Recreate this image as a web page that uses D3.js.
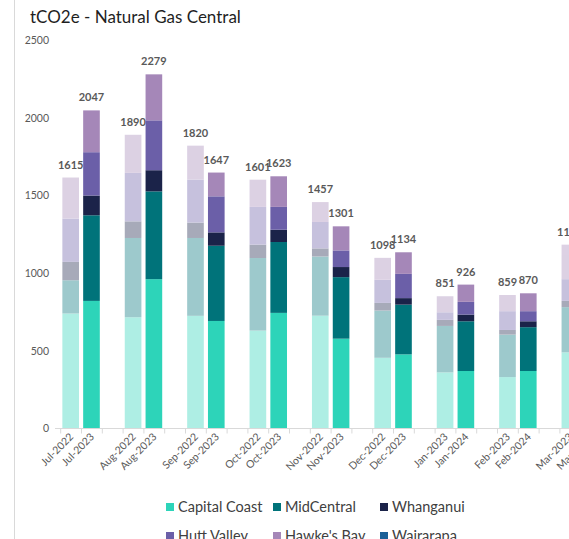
<!DOCTYPE html>
<html>
<head>
<meta charset="utf-8">
<script src="https://cdn.jsdelivr.net/npm/d3@7"></script>
<style>
  body { margin: 0; background: #fff; }
  svg { display: block; font-family: Lato, "Open Sans", sans-serif; }
</style>
</head>
<body>
<div id="chart"></div>
<script>
// months, prior year bar then current year bar
const priorMonths = ["Jul-2022", "Aug-2022", "Sep-2022", "Oct-2022", "Nov-2022", "Dec-2022", "Jan-2023", "Feb-2023", "Mar-2023"];
const currentMonths = ["Jul-2023", "Aug-2023", "Sep-2023", "Oct-2023", "Nov-2023", "Dec-2023", "Jan-2024", "Feb-2024", "Mar-2024"];

const regions = ["Capital Coast", "MidCentral", "Whanganui", "Hutt Valley", "Hawke's Bay", "Wairarapa"];
const regionColors = ["#2dd4b9", "#00737a", "#1b2349", "#6b5fa8", "#a587b8", "#1a5f96"];

// tCO2e, prior year
const priorCapitalCoast = [740, 716, 725, 630, 726, 455, 361, 331, 490];
const priorMidCentral   = [214, 510, 501, 467, 381, 304, 299, 273, 291];
const priorWhanganui    = [118, 107, 99, 86, 52, 49, 39, 30, 40];
const priorHuttValley   = [279, 312, 277, 243, 170, 149, 49, 121, 140];
const priorHawkesBay    = [264, 245, 218, 175, 128, 141, 103, 104, 222];
const priorWairarapa    = [0, 0, 0, 0, 0, 0, 0, 0, 0];

// tCO2e, current year
const currentCapitalCoast = [821, 961, 692, 744, 578, 477, 370, 370, null];
const currentMidCentral   = [551, 565, 484, 456, 396, 320, 320, 282, null];
const currentWhanganui    = [127, 136, 86, 79, 65, 42, 43, 38, null];
const currentHuttValley   = [279, 321, 232, 147, 107, 156, 82, 65, null];
const currentHawkesBay    = [269, 296, 153, 197, 155, 139, 111, 115, null];
const currentWairarapa    = [0, 0, 0, 0, 0, 0, 0, 0, null];

const yTicks = [0, 500, 1000, 1500, 2000, 2500];

const prior = [priorCapitalCoast, priorMidCentral, priorWhanganui, priorHuttValley, priorHawkesBay, priorWairarapa];
const current = [currentCapitalCoast, currentMidCentral, currentWhanganui, currentHuttValley, currentHawkesBay, currentWairarapa];

// build rows: prior, current, spacer
const rows = [];
priorMonths.forEach((m, i) => {
  rows.push({ key: "p" + i, label: m, faded: true, vals: prior.map(s => s[i]) });
  rows.push({ key: "c" + i, label: currentMonths[i], faded: false, vals: current.map(s => s[i]) });
  rows.push({ key: "g" + i, label: "", faded: false, vals: regions.map(() => null) });
});

const width = 569, height = 539;
const svg = d3.select("#chart").append("svg")
  .attr("width", width)
  .attr("height", height);

svg.append("rect").attr("width", width).attr("height", height).attr("fill", "#fff");

// chart area border
svg.append("line")
  .attr("x1", 14.5).attr("x2", 14.5)
  .attr("y1", 0).attr("y2", height)
  .attr("stroke", "#d9d9d9");

svg.append("text")
  .attr("x", 30).attr("y", 23)
  .attr("font-size", 17)
  .attr("fill", "#1f1f1f")
  .text("tCO2e - Natural Gas Central");

const step = 20.8;
const x = d3.scaleBand()
  .domain(rows.map(r => r.key))
  .range([60.7, 60.7 + step * rows.length])
  .padding(0);

const y = d3.scaleLinear().domain([0, 2500]).range([428.5, 40]);

// y axis labels only
const yAxis = d3.axisLeft(y).tickValues(yTicks).tickFormat(d3.format("d")).tickSize(0).tickPadding(0);
svg.append("g")
  .attr("transform", "translate(49,0)")
  .call(yAxis)
  .call(g => g.select(".domain").remove())
  .call(g => g.selectAll("text")
    .attr("font-family", "Lato, 'Open Sans', sans-serif")
    .attr("font-size", 10.5)
    .attr("fill", "#595959"));

// bars
rows.forEach(r => {
  if (r.vals[0] == null) return;
  let acc = 0;
  const g = svg.append("g").attr("opacity", r.faded ? 0.38 : 1);
  r.vals.forEach((v, k) => {
    if (!v) return;
    g.append("rect")
      .attr("x", x(r.key) + step * 0.08)
      .attr("width", step * 0.8)
      .attr("y", y(acc + v))
      .attr("height", y(acc) - y(acc + v))
      .attr("fill", regionColors[k]);
    acc += v;
  });
  svg.append("text")
    .attr("x", x(r.key) + step * 0.48)
    .attr("y", y(acc) - 9)
    .attr("text-anchor", "middle")
    .attr("font-size", 11)
    .attr("font-weight", "bold")
    .attr("fill", "#595959")
    .text(acc);
});

// x axis
const xAxisG = svg.append("g").attr("transform", "translate(0,428.5)");
xAxisG.append("line")
  .attr("x1", 55).attr("x2", width)
  .attr("stroke", "#d9d9d9");
const edges = rows.map(r => x(r.key)).concat([x.range()[1]]);
xAxisG.selectAll("line.tick").data(edges).enter().append("line")
  .attr("class", "tick")
  .attr("x1", d => d).attr("x2", d => d)
  .attr("y1", 0).attr("y2", 5)
  .attr("stroke", "#d9d9d9");
xAxisG.selectAll("text").data(rows.filter(r => r.label)).enter().append("text")
  .attr("transform", r => `translate(${x(r.key) + step / 2 + 3},9) rotate(-45)`)
  .attr("text-anchor", "end")
  .attr("font-size", 10.5)
  .attr("fill", "#595959")
  .text(r => r.label);

// legend
const markerX = [166, 273, 380];
const legend = svg.append("g");
regions.forEach((name, i) => {
  const lx = markerX[i % 3];
  const base = 512 + Math.floor(i / 3) * 29;
  legend.append("rect")
    .attr("x", lx).attr("y", base - 9)
    .attr("width", 8).attr("height", 8)
    .attr("fill", regionColors[i]);
  legend.append("text")
    .attr("x", lx + 12).attr("y", base)
    .attr("font-size", 14.5)
    .attr("fill", "#404040")
    .text(name);
});
</script>
</body>
</html>
